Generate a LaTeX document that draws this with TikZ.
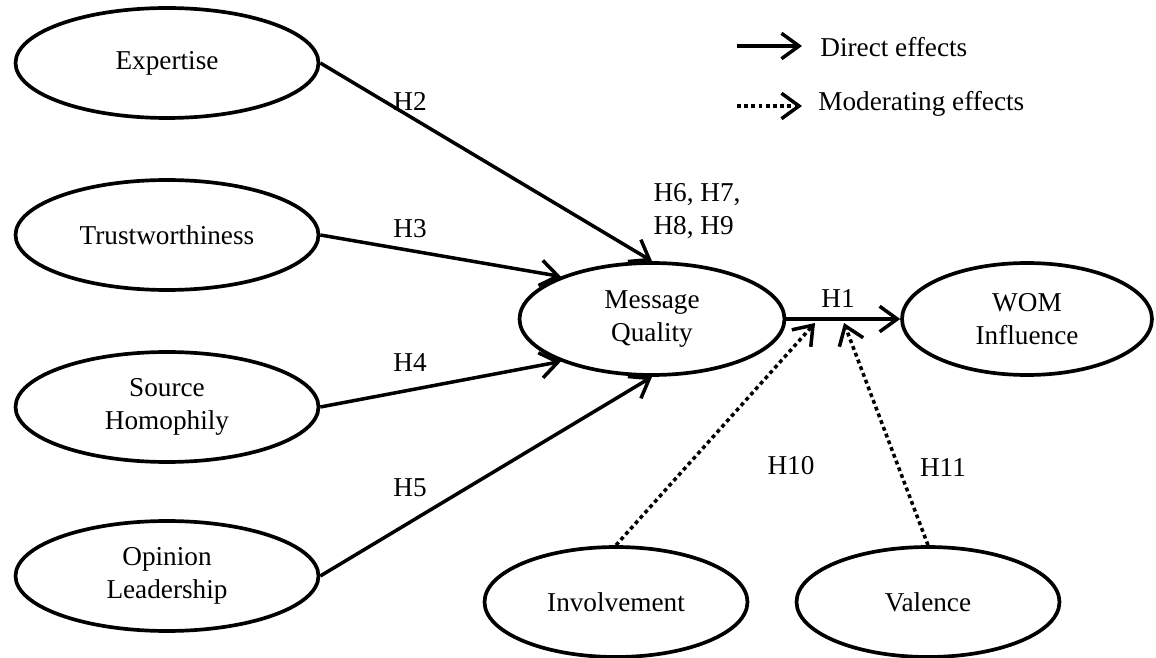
\documentclass[tikz,border=0pt]{standalone}
\usepackage{fontspec}
\setmainfont{Liberation Serif}
\usetikzlibrary{shapes.geometric,arrows.meta,calc}

\begin{document}
\begin{tikzpicture}[x=0.02cm,y=-0.02cm,
    construct/.style={ellipse,draw,line width=2.1pt,minimum width=6.06cm,
      minimum height=2.2cm,align=center,inner sep=0pt,
      font=\fontsize{15.5}{18.5}\selectfont},
    hyplabel/.style={font=\fontsize{15.5}{18.5}\selectfont,inner sep=0pt},
    direct/.style={line width=2pt,-{Straight Barb[length=10pt,width=14.5pt,line width=2pt]}},
    moder/.style={direct,dash pattern=on 2.2pt off 1.9pt}]
  \useasboundingbox (0,0) rectangle (1156,658);

  % antecedents
  \node[construct] (expertise) at (167,63) {Expertise};
  \node[construct] (trust) at (167,235) {Trustworthiness};
  \node[construct] (homophily) at (167,407) {Source\\Homophily};
  \node[construct] (leader) at (167,576) {Opinion\\Leadership};

  % mediator, outcome, moderators
  \node[construct,minimum width=5.3cm,minimum height=2.24cm] (mq) at (652,319) {Message\\Quality};
  \node[construct,minimum width=5cm,minimum height=2.24cm] (wom) at (1027,319) {WOM\\Influence};
  \node[construct,minimum width=5.26cm] (involve) at (616,602) {Involvement};
  \node[construct,minimum width=5.26cm] (valence) at (928,602) {Valence};

  % direct effects
  \draw[direct] (expertise.east) -- (mq.north);
  \draw[direct] (trust.east) -- (mq.155);
  \draw[direct] (homophily.east) -- (mq.205);
  \draw[direct] (leader.east) -- (mq.south);
  \draw[direct] (mq.east) -- (wom.west);

  % moderating effects
  \coordinate (m1) at (815,323);
  \coordinate (m2) at (844,323);
  \draw[moder] (involve.north) -- (m1);
  \draw[moder] (valence.north) -- (m2);

  % hypotheses
  \node[hyplabel] (h2) at (410,101) {H2};
  \node[hyplabel] (h3) at (410,229) {H3};
  \node[hyplabel] (h4) at (410,363) {H4};
  \node[hyplabel] (h5) at (410,488) {H5};
  \node[hyplabel,align=left] (h6) at (697,211) {H6, H7,\\H8, H9};
  \node[hyplabel] (h1) at (838,299) {H1};
  \node[hyplabel] (h10) at (791,466) {H10};
  \node[hyplabel] (h11) at (943,468) {H11};

  % legend
  \coordinate (la) at (737,46);
  \coordinate (lb) at (802,46);
  \coordinate (lc) at (737,106);
  \coordinate (ld) at (802,106);
  \draw[direct] (la) -- (lb);
  \draw[moder] (lc) -- (ld);
  \node[hyplabel,anchor=west] (ldirect) at (820,47) {Direct effects};
  \node[hyplabel,anchor=west] (lmoder) at (818,104) {Moderating effects};
\end{tikzpicture}
\end{document}
